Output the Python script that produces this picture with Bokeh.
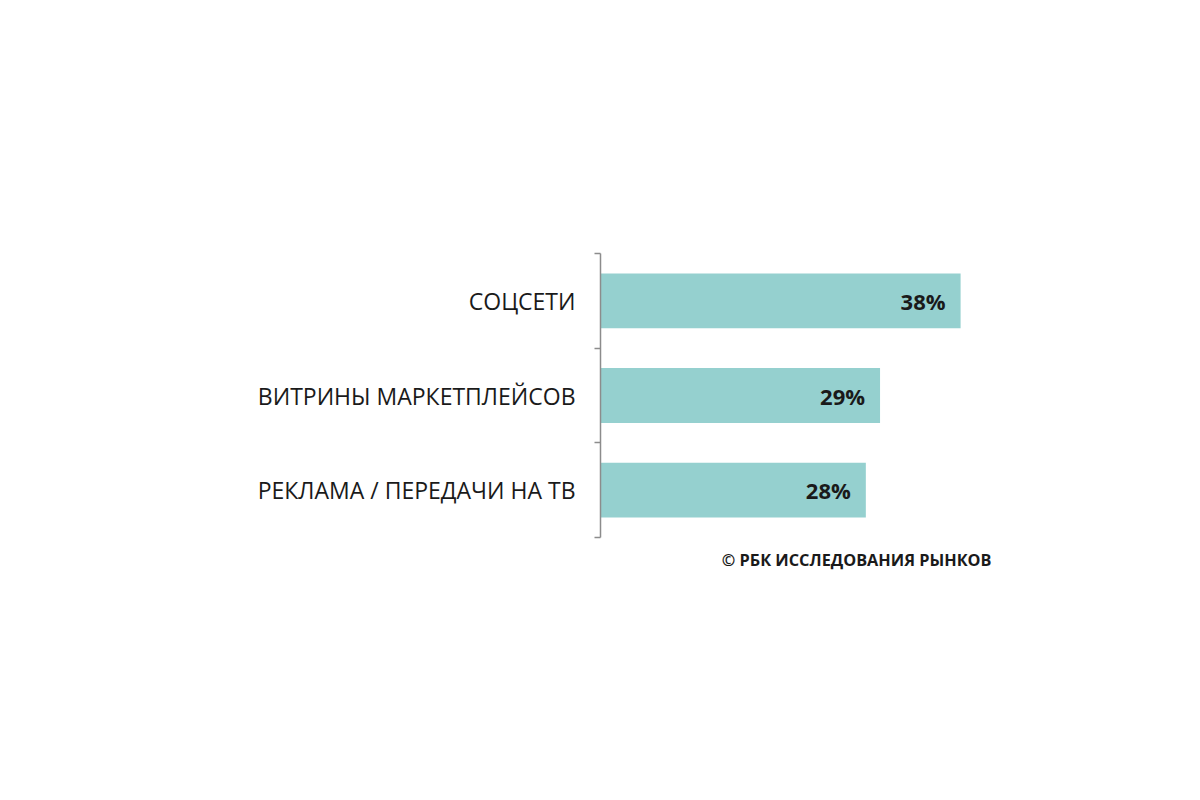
from bokeh.plotting import figure
from bokeh.models import FixedTicker, Title, ColumnDataSource, Range1d
from bokeh.core.properties import value
from bokeh.embed import file_html
from bokeh.resources import INLINE

categories = ["СОЦСЕТИ", "ВИТРИНЫ МАРКЕТПЛЕЙСОВ", "РЕКЛАМА / ПЕРЕДАЧИ НА ТВ"]
values = [38, 29.5, 28]
value_labels = ["38%", "29%", "28%"]
source_text = "© РБК ИССЛЕДОВАНИЯ РЫНКОВ"

n = len(categories)
ypos = [n - 0.5 - i for i in range(n)]

src = ColumnDataSource(dict(y=ypos, v=values, lab=value_labels, cat=categories))

p = figure(width=1184, height=784, output_backend="svg", toolbar_location=None,
           x_range=Range1d(0, 42), y_range=Range1d(0, n),
           min_border_left=600, min_border_right=186,
           min_border_top=253, min_border_bottom=247)
p.outline_line_color = None
p.xaxis.visible = False
p.grid.visible = False
p.background_fill_color = "white"
p.border_fill_color = "white"

p.hbar(y="y", right="v", left=0, height=0.58, source=src,
       fill_color="#95D0CF", line_color=None)

p.text(x="v", y="y", text="lab", source=src, x_offset=-15,
       text_align="right", text_baseline="middle",
       text_font=value("Open Sans"), text_font_style="bold",
       text_font_size="22px", text_color="#1a1a1a")

ax = p.yaxis[0]
ax.ticker = FixedTicker(ticks=ypos, minor_ticks=list(range(n + 1)))
ax.major_label_overrides = {y: c for y, c in zip(ypos, categories)}
ax.major_tick_line_color = None
ax.major_tick_in = 0
ax.major_tick_out = 0
ax.minor_tick_in = 0
ax.minor_tick_out = 6
ax.minor_tick_line_color = "#8c8c8c"
ax.minor_tick_line_width = 1.5
ax.axis_line_color = "#8c8c8c"
ax.axis_line_width = 1.5
ax.major_label_standoff = 19
ax.major_label_text_font = "Open Sans"
ax.major_label_text_font_size = "23px"
ax.major_label_text_color = "#1a1a1a"

p.add_layout(Title(text=source_text, align="right", offset=7, standoff=19,
                   text_font="Open Sans", text_font_style="bold",
                   text_font_size="16.3px", text_color="#1a1a1a"), "below")

open("out.html", "w").write(file_html(p, INLINE))
